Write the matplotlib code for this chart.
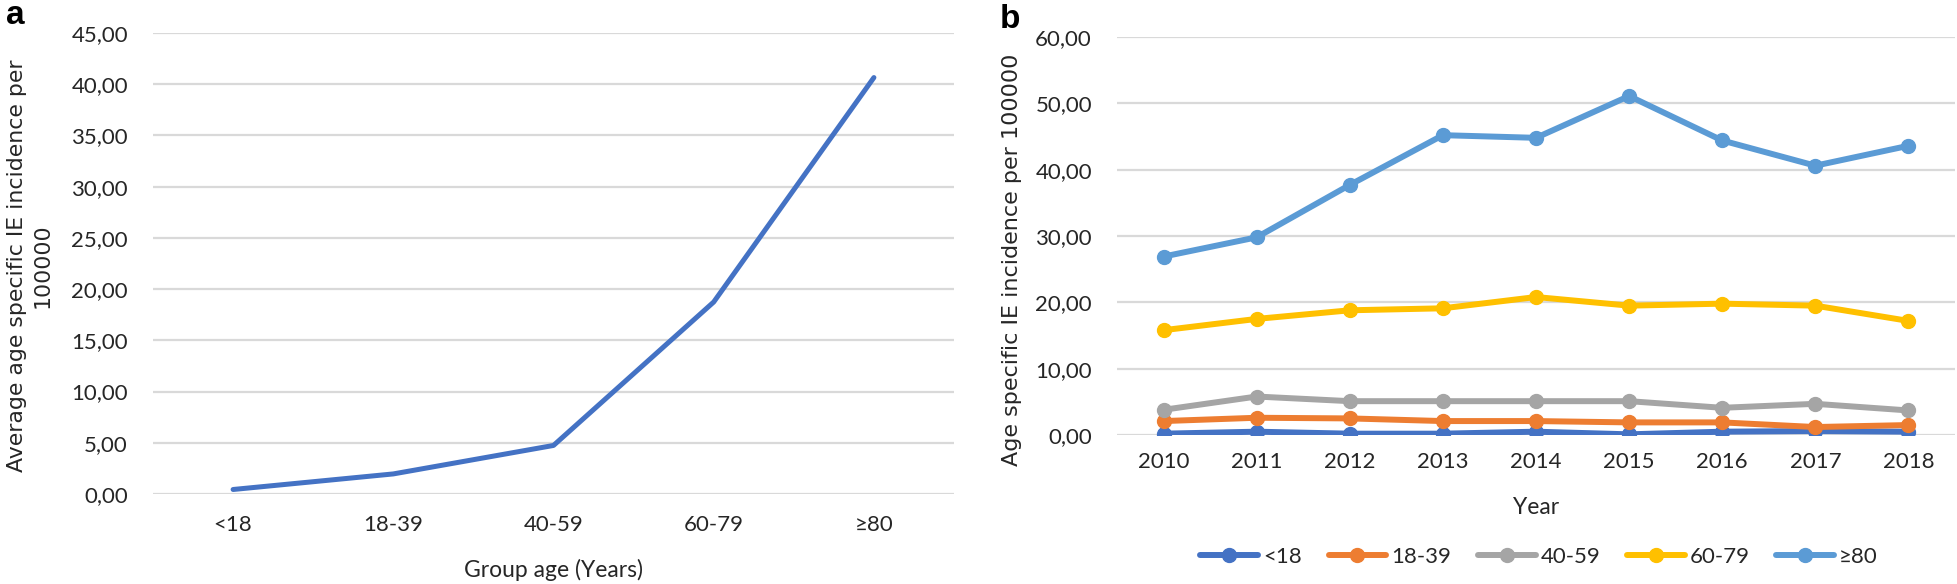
import matplotlib.pyplot as plt
from matplotlib.ticker import FuncFormatter

# panel a: average incidence by age group
age_groups = ["<18", "18-39", "40-59", "60-79", "≥80"]
avg_incidence = [0.44, 1.96, 4.74, 18.74, 40.65]

# panel b: yearly incidence by age group
years = ["2010", "2011", "2012", "2013", "2014", "2015", "2016", "2017", "2018"]
inc_u18 = [0.2, 0.5, 0.2, 0.2, 0.5, 0.1, 0.5, 0.6, 0.5]
inc_18_39 = [2.1, 2.6, 2.5, 2.1, 2.1, 1.9, 1.9, 1.2, 1.5]
inc_40_59 = [3.8, 5.8, 5.1, 5.1, 5.1, 5.1, 4.1, 4.7, 3.7]
inc_60_79 = [15.8, 17.5, 18.8, 19.1, 20.8, 19.5, 19.8, 19.5, 17.2]
inc_80 = [26.9, 29.8, 37.7, 45.2, 44.8, 51.1, 44.4, 40.6, 43.6]

series = [inc_u18, inc_18_39, inc_40_59, inc_60_79, inc_80]
colors = ["#4472C4", "#ED7D31", "#A5A5A5", "#FFC000", "#5B9BD5"]

W, H = 1958, 584
fig = plt.figure(figsize=(W / 100, H / 100), dpi=100)

tick_font = "Lato"
label_col = "#262626"
grid_col = "#D9D9D9"

comma_fmt = FuncFormatter(lambda v, p: f"{v:.2f}".replace(".", ","))


def style_axes(ax):
    for s in ax.spines.values():
        s.set_visible(False)
    ax.tick_params(length=0, labelsize=16, labelcolor=label_col)
    ax.tick_params(axis="y", pad=18)
    ax.yaxis.grid(True, color=grid_col, lw=1.6)
    ax.set_axisbelow(True)
    ax.yaxis.set_major_formatter(comma_fmt)
    for lab in ax.get_xticklabels() + ax.get_yticklabels():
        lab.set_fontfamily(tick_font)


# --- panel a
ax1 = fig.add_axes([153 / W, 1 - 494 / H, (954 - 153) / W, (494 - 33) / H])
x1 = list(range(len(age_groups)))
ax1.plot(x1, avg_incidence, color="#4472C4", lw=3.6, solid_capstyle="round")
ax1.set_xlim(-0.5, len(age_groups) - 0.5)
ax1.set_ylim(0, 45)
ax1.set_yticks(range(0, 46, 5))
ax1.set_xticks(x1)
ax1.set_xticklabels(age_groups)
style_axes(ax1)
ax1.tick_params(axis="x", pad=15)
fig.text(554 / W, 1 - 570 / H, "Group age (Years)", ha="center", va="center",
         fontsize=16.5, family=tick_font, color=label_col)
fig.text(30 / W, 1 - 266 / H, "Average age specific IE incidence per\n100000",
         rotation=90, ha="center", va="center", multialignment="center",
         fontsize=15.8, family="DejaVu Sans", color=label_col, linespacing=1.35)
fig.text(15 / W, 1 - 16 / H, "a", ha="center", va="center", fontsize=24,
         fontweight="bold", family="Liberation Sans")

# --- panel b
ax2 = fig.add_axes([1117 / W, 1 - 435 / H, (1955 - 1117) / W, (435 - 37) / H])
x2 = list(range(len(years)))
for vals, c, name in zip(series, colors, age_groups):
    ax2.plot(x2, vals, color=c, lw=4.3, marker="o", markersize=10,
             solid_capstyle="round", label=name)
ax2.set_xlim(-0.5, len(years) - 0.5)
ax2.set_ylim(0, 60)
ax2.set_yticks(range(0, 61, 10))
ax2.set_xticks(x2)
ax2.set_xticklabels(years)
style_axes(ax2)
ax2.tick_params(axis="x", pad=12)
fig.text(1536 / W, 1 - 508 / H, "Year", ha="center", va="center",
         fontsize=16.5, family=tick_font, color=label_col)
fig.text(1012 / W, 1 - 260 / H, "Age specific IE incidence per 100000",
         rotation=90, ha="center", va="center",
         fontsize=16, family="DejaVu Sans", color=label_col)
fig.text(1010 / W, 1 - 19 / H, "b", ha="center", va="center", fontsize=24,
         fontweight="bold", family="Liberation Sans")

leg = fig.legend(loc="center", bbox_to_anchor=(1539 / W, 1 - 557 / H), ncol=5,
                 frameon=False, handlelength=2.6, handletextpad=0.22,
                 columnspacing=1.2, prop={"family": tick_font, "size": 16})
for t in leg.get_texts():
    t.set_color(label_col)

fig.savefig("out.png", dpi=100)
